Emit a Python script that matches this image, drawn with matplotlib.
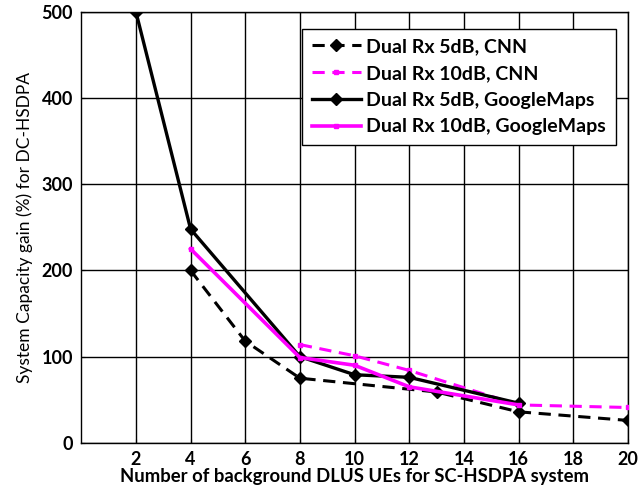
import matplotlib.pyplot as plt

# capacity gain vs number of background UEs
x_cnn5 = [4, 6, 8, 13, 16, 20]
y_cnn5 = [200, 118, 75, 59, 36, 26]

x_cnn10 = [8, 10, 12, 16, 20]
y_cnn10 = [114, 101, 84, 44, 41]

x_gm5 = [2, 4, 8, 10, 12, 16]
y_gm5 = [500, 248, 100, 79, 76, 46]

x_gm10 = [4, 8, 10, 12, 16]
y_gm10 = [225, 99, 90, 65, 44]

xticks = [2, 4, 6, 8, 10, 12, 14, 16, 18, 20]
yticks = [0, 100, 200, 300, 400, 500]

plt.rcParams['font.family'] = ['Lato', 'DejaVu Sans']

fig = plt.figure(figsize=(6.4, 4.97), dpi=100)
ax = fig.add_axes([0.127, 0.109, 0.854, 0.867])

ax.plot(x_cnn5, y_cnn5, 'k--', lw=2.2, marker='D', ms=6, mfc='k', mec='k',
        dashes=(4, 2.5), label='Dual Rx 5dB, CNN', zorder=3)
ax.plot(x_cnn10, y_cnn10, '--', color='#ff00ff', lw=2.2, marker='s', ms=3.5,
        dashes=(4, 2.5), label='Dual Rx 10dB, CNN', zorder=3)
ax.plot(x_gm5, y_gm5, 'k-', lw=2.4, marker='D', ms=6, mfc='k', mec='k',
        label='Dual Rx 5dB, GoogleMaps', zorder=3)
ax.plot(x_gm10, y_gm10, '-', color='#ff00ff', lw=2.6, marker='s', ms=3.5,
        label='Dual Rx 10dB, GoogleMaps', zorder=3)

ax.set_xlim(0, 20)
ax.set_ylim(0, 500)
ax.set_xticks(xticks)
ax.set_yticks(yticks)
ax.grid(True, color='k', lw=1.0, ls='-')
ax.tick_params(direction='in', length=3, labelsize=13, pad=6)
for lab in ax.get_xticklabels() + ax.get_yticklabels():
    lab.set_fontweight('bold')
for s in ax.spines.values():
    s.set_linewidth(1.0)

ax.set_xlabel('Number of background DLUS UEs for SC-HSDPA system', fontsize=13.3,
              fontweight='bold', labelpad=0)
ax.set_ylabel('System Capacity gain (%) for DC-HSDPA', fontsize=12.5,
              labelpad=6)

leg = ax.legend(loc='upper right', bbox_to_anchor=(0.996, 0.984), fontsize=14,
                frameon=True, fancybox=False, edgecolor='k', framealpha=1,
                handlelength=2.5, handletextpad=0.3, borderpad=0.5, labelspacing=0.5)
leg.get_frame().set_linewidth(1.0)
for t in leg.get_texts():
    t.set_fontweight('bold')

fig.savefig('out.png', dpi=100)
